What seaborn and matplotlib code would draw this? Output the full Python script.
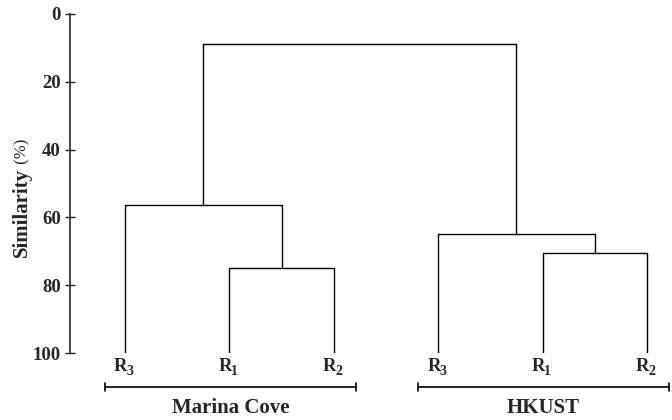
import numpy as np
import pandas as pd
import matplotlib
matplotlib.use("Agg")
import matplotlib.pyplot as plt
import seaborn as sns

# leaves in drawing order (left -> right)
leaf_labels = ["3", "1", "2", "3", "1", "2"]
groups = ["Marina Cove", "HKUST"]
group_leaves = [(0, 2), (3, 5)]

# merges: (left child, right child, similarity %); children < 6 are leaves, else earlier merges
merge_left = [1, 0, 4, 3, 7]
merge_right = [2, 6, 5, 8, 9]
merge_height = [74.8, 56.3, 70.5, 64.9, 8.8]

sns.set_style("white")
plt.rcParams["font.family"] = ["Liberation Serif", "DejaVu Serif"]

# node positions / heights
n_leaves = len(leaf_labels)
node_x = list(range(n_leaves))
node_y = [100.0] * n_leaves
rows = []
for i, (a, b, h) in enumerate(zip(merge_left, merge_right, merge_height)):
    xa, ya = node_x[a], node_y[a]
    xb, yb = node_x[b], node_y[b]
    for k, (px, py) in enumerate([(xa, ya), (xa, h), (xb, h), (xb, yb)]):
        rows.append({"link": i, "order": k, "x": px, "y": py})
    node_x.append((xa + xb) / 2)
    node_y.append(h)
df = pd.DataFrame(rows)

fig = plt.figure(figsize=(6.72, 4.2), dpi=100)
ax = fig.add_axes([70 / 672, 1 - 353 / 420, 602 / 672, 339 / 420])

sns.lineplot(data=df, x="x", y="y", units="link", estimator=None, sort=False,
             color="black", linewidth=1.0, ax=ax, legend=False)

ax.set_xlim(-0.527, 5.24)
ax.set_ylim(100, 0)
ax.set_yticks([0, 20, 40, 60, 80, 100])
ax.set_xticks([])
ax.set_xlabel("")
ax.set_ylabel("")
for s in ["top", "right", "bottom"]:
    ax.spines[s].set_visible(False)
ax.spines["left"].set_linewidth(1.2)
ax.tick_params(axis="y", direction="inout", length=7, width=1.0, left=True,
               labelsize=13.5, pad=3)
for lab in ax.get_yticklabels():
    lab.set_fontweight("bold")

# leaf labels: "R" with a lowered subscript digit
for i, lab in enumerate(leaf_labels):
    r = ax.text(i - 0.04, 101.6, "R", ha="center", va="top", fontsize=13.5,
                fontweight="bold", clip_on=False)
    ax.annotate(lab, xy=(1.0, 0.22), xycoords=r, xytext=(-0.8, 0),
                textcoords="offset points", ha="left", va="center",
                fontsize=10, fontweight="bold")

# group brackets
for name, (l0, l1) in zip(groups, group_leaves):
    x0, x1 = l0 - 0.19, l1 + 0.21
    ax.plot([x0, x1], [110, 110], color="black", lw=1.2, clip_on=False)
    for xe in (x0, x1):
        ax.plot([xe, xe], [108.8, 111.2], color="black", lw=1.2, clip_on=False)
    ax.text((x0 + x1) / 2, 113.3, name, ha="center", va="top", fontsize=15,
            fontweight="bold", clip_on=False)

# y label: bold "Similarity" + normal "(%)"
t = fig.text(22 / 672, 1 - 257 / 420, "Similarity", rotation=90, ha="center",
             va="bottom", fontsize=15, fontweight="bold")
ax.annotate(" (%)", xy=(0.5, 1.0), xycoords=t, rotation=90, ha="center",
            va="bottom", fontsize=12)

fig.savefig("out.png", dpi=100)
